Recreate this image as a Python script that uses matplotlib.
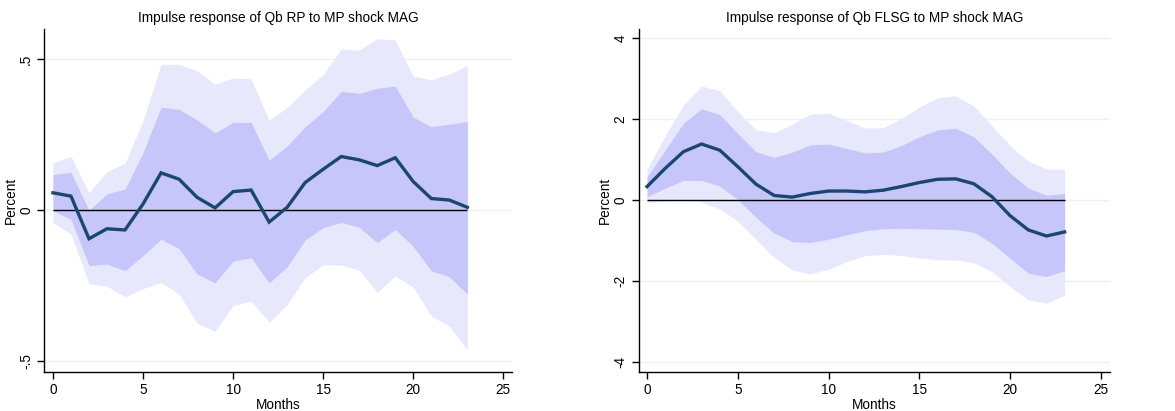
import matplotlib
matplotlib.use("Agg")
import matplotlib.pyplot as plt
import numpy as np

plt.rcParams['font.family'] = ['Liberation Sans', 'DejaVu Sans']

months = list(range(24))

# Left panel: Qb RP
rp_irf = [0.058, 0.047, -0.094, -0.061, -0.065, 0.021, 0.124, 0.103, 0.043, 0.008,
          0.062, 0.067, -0.039, 0.010, 0.092, 0.136, 0.178, 0.167, 0.148, 0.174,
          0.095, 0.039, 0.034, 0.010]
rp_in_hi = [0.118, 0.126, 0.000, 0.055, 0.070, 0.191, 0.341, 0.334, 0.299, 0.257,
            0.291, 0.291, 0.166, 0.213, 0.277, 0.327, 0.394, 0.387, 0.404, 0.411,
            0.308, 0.277, 0.285, 0.294]
rp_in_lo = [-0.001, -0.030, -0.183, -0.178, -0.200, -0.150, -0.096, -0.127, -0.211, -0.240,
            -0.168, -0.157, -0.240, -0.187, -0.098, -0.057, -0.040, -0.056, -0.107, -0.063,
            -0.120, -0.200, -0.220, -0.277]
rp_out_hi = [0.157, 0.178, 0.058, 0.128, 0.156, 0.296, 0.483, 0.483, 0.462, 0.417,
             0.438, 0.435, 0.297, 0.341, 0.398, 0.449, 0.534, 0.530, 0.568, 0.564,
             0.444, 0.432, 0.451, 0.479]
rp_out_lo = [-0.041, -0.078, -0.243, -0.251, -0.286, -0.259, -0.238, -0.277, -0.374, -0.400,
             -0.315, -0.300, -0.371, -0.311, -0.222, -0.181, -0.181, -0.198, -0.272, -0.217,
             -0.255, -0.350, -0.383, -0.462]

# Right panel: Qb FLSG
fl_irf = [0.34, 0.79, 1.20, 1.39, 1.24, 0.83, 0.40, 0.12, 0.08, 0.17,
          0.23, 0.23, 0.21, 0.25, 0.34, 0.44, 0.52, 0.53, 0.41, 0.09,
          -0.38, -0.73, -0.88, -0.78]
fl_in_hi = [0.58, 1.24, 1.90, 2.26, 2.12, 1.65, 1.20, 1.06, 1.19, 1.37,
            1.39, 1.28, 1.17, 1.19, 1.35, 1.57, 1.74, 1.78, 1.57, 1.14,
            0.67, 0.30, 0.13, 0.17]
fl_in_lo = [0.09, 0.30, 0.49, 0.49, 0.35, 0.02, -0.42, -0.81, -1.02, -1.04,
            -0.96, -0.85, -0.75, -0.70, -0.69, -0.70, -0.71, -0.72, -0.79, -1.06,
            -1.43, -1.80, -1.88, -1.74]
fl_out_hi = [0.77, 1.59, 2.35, 2.82, 2.71, 2.19, 1.74, 1.67, 1.88, 2.13,
             2.15, 1.97, 1.79, 1.79, 2.02, 2.30, 2.53, 2.58, 2.33, 1.84,
             1.35, 0.97, 0.77, 0.77]
fl_out_lo = [-0.06, -0.01, 0.02, -0.04, -0.21, -0.51, -0.96, -1.41, -1.72, -1.81,
             -1.70, -1.51, -1.37, -1.33, -1.36, -1.42, -1.47, -1.47, -1.54, -1.76,
             -2.13, -2.46, -2.54, -2.34]

x_ticks = [0, 5, 10, 15, 20, 25]
rp_yticks = [-0.5, 0, 0.5]
rp_ylabels = ['-.5', '0', '.5']
fl_yticks = [-4, -2, 0, 2, 4]
fl_ylabels = ['-4', '-2', '0', '2', '4']

titles = ['Impulse response of Qb RP to MP shock MAG',
          'Impulse response of Qb FLSG to MP shock MAG']

W, H = 1175, 411
fig = plt.figure(figsize=(W / 100, H / 100), dpi=100)

def px_axes(x0, x1, ytop, ybot):
    return fig.add_axes([x0 / W, 1 - ybot / H, (x1 - x0) / W, (ybot - ytop) / H])

ax1 = px_axes(44.3, 512, 29, 371.7)
ax2 = px_axes(638.7, 1110, 29, 371.7)

OUTER = '#e8e8fc'
INNER = '#c6c6fa'
NAVY = '#1a476f'
GRID = '#eaf2f3'
FS = 9.8

def draw(ax, irf, ihi, ilo, ohi, olo, yticks, ylabels, ylim, xlim, title):
    ax.fill_between(months, olo, ohi, color=OUTER, linewidth=0, zorder=1)
    ax.fill_between(months, ilo, ihi, color=INNER, linewidth=0, zorder=2)
    ax.hlines(0, months[0], months[-1], color='black', linewidth=1.0, zorder=3)
    ax.plot(months, irf, color=NAVY, linewidth=2.4, zorder=4, solid_joinstyle='miter')
    ax.set_xlim(*xlim)
    ax.set_ylim(*ylim)
    ax.set_xticks(x_ticks)
    ax.set_yticks(yticks)
    ax.set_yticklabels(ylabels, rotation=90, va='center')
    ax.tick_params(axis='both', direction='out', length=5, width=1, labelsize=FS,
                   colors='black', pad=3)
    ax.grid(axis='y', color=GRID, linewidth=1.0, zorder=0)
    ax.set_axisbelow(True)
    for s in ['top', 'right']:
        ax.spines[s].set_visible(False)
    for s in ['left', 'bottom']:
        ax.spines[s].set_color('black')
        ax.spines[s].set_linewidth(1.0)
    ax.set_title(title, fontsize=FS, pad=5)
    ax.set_xlabel('Months', fontsize=FS, labelpad=0.5)
    ax.set_ylabel('Percent', fontsize=FS, labelpad=1)

draw(ax1, rp_irf, rp_in_hi, rp_in_lo, rp_out_hi, rp_out_lo,
     rp_yticks, rp_ylabels, (-0.534, 0.600), (-0.48, 25.48), titles[0])
draw(ax2, fl_irf, fl_in_hi, fl_in_lo, fl_out_hi, fl_out_lo,
     fl_yticks, fl_ylabels, (-4.23, 4.23), (-0.46, 25.5), titles[1])

fig.savefig('out.png', dpi=100, facecolor='white')
